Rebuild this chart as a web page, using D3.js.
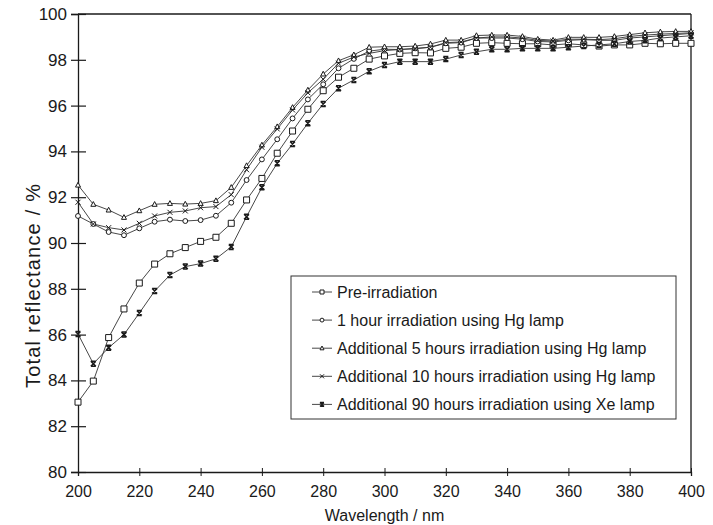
<!DOCTYPE html>
<html><head><meta charset="utf-8">
<script src="https://cdn.jsdelivr.net/npm/d3@7"></script>
<style>body{margin:0;background:#fff}svg{display:block}text{font-family:"Liberation Sans",Arial,sans-serif;fill:#1a1a1a}</style>
</head><body><svg id="c" width="713" height="525"></svg>
<script>
const wavelengths = d3.range(200, 401, 5);
const preIrradiation = [83.05,83.97,85.87,87.12,88.25,89.08,89.53,89.8,90.07,90.25,90.86,91.88,92.82,93.92,94.89,95.84,96.65,97.24,97.63,98.03,98.17,98.28,98.31,98.3,98.5,98.55,98.72,98.75,98.72,98.7,98.7,98.65,98.7,98.65,98.6,98.65,98.65,98.72,98.7,98.72,98.72];
const hg1h = [91.18,90.83,90.48,90.34,90.64,90.93,91.02,90.96,91.0,91.19,91.76,92.75,93.65,94.53,95.44,96.27,96.93,97.63,98.04,98.38,98.46,98.45,98.5,98.55,98.72,98.75,98.95,98.95,98.95,98.9,98.8,98.78,98.85,98.88,98.85,98.85,98.95,99.0,99.05,99.1,99.15];
const hg5h = [92.53,91.69,91.44,91.12,91.41,91.69,91.73,91.70,91.73,91.85,92.43,93.38,94.28,95.08,95.92,96.68,97.38,97.96,98.22,98.55,98.57,98.57,98.6,98.69,98.86,98.86,99.06,99.08,99.08,99.02,98.9,98.86,98.98,98.98,98.98,99.02,99.1,99.18,99.22,99.24,99.24];
const hg10h = [91.78,90.83,90.67,90.57,90.86,91.18,91.34,91.40,91.54,91.59,92.11,93.2,94.18,94.98,95.81,96.56,97.15,97.85,98.12,98.28,98.4,98.45,98.48,98.55,98.75,98.78,98.95,99.0,99.0,98.95,98.85,98.82,98.9,98.9,98.88,98.92,99.02,99.08,99.12,99.15,99.18];
const xe90h = [86.03,84.73,85.43,86.0,86.94,87.9,88.6,88.97,89.1,89.31,89.83,91.15,92.43,93.48,94.32,95.23,96.07,96.76,97.12,97.5,97.77,97.92,97.92,97.92,98.03,98.21,98.35,98.46,98.46,98.5,98.5,98.5,98.55,98.6,98.65,98.7,98.8,98.85,98.95,99.0,99.05];
const seriesNames = ["Pre-irradiation","1 hour irradiation using Hg lamp","Additional 5 hours irradiation using Hg lamp","Additional 10 hours irradiation using Hg lamp","Additional 90 hours irradiation using Xe lamp"];
const seriesMarkers = ["square","circle","triangle","cross","xbar"];
const xTicks = d3.range(200, 401, 20);
const yTicks = d3.range(80, 101, 2);

const series = [preIrradiation,hg1h,hg5h,hg10h,xe90h].map((v,i)=>({name:seriesNames[i],marker:seriesMarkers[i],values:v}));

const svg = d3.select("#c");
const L=78,R=691,T=14,B=472;
const x = d3.scaleLinear().domain([200,400]).range([L,R]);
const y = d3.scaleLinear().domain([80,100]).range([B,T]);
const ink="#1a1a1a";

svg.append("line").attr("x1",L).attr("x2",R).attr("y1",T).attr("y2",T).attr("stroke",ink).attr("stroke-width",1.3);
svg.append("line").attr("x1",R).attr("x2",R).attr("y1",T).attr("y2",B).attr("stroke",ink).attr("stroke-width",1.3);

const gy = svg.append("g").attr("transform",`translate(${L},0)`)
  .call(d3.axisLeft(y).tickValues(yTicks).tickSize(7).tickPadding(4).tickFormat(d3.format("d")));
gy.select(".domain").attr("stroke",ink).attr("stroke-width",1.3);
gy.selectAll(".tick line").attr("x1",-7).attr("x2",8).attr("stroke",ink).attr("stroke-width",1.2);
gy.selectAll(".tick text").attr("font-size",17).attr("x",-11).style("font-family",'"Liberation Sans",Arial,sans-serif').attr("fill",ink);

const gx = svg.append("g").attr("transform",`translate(0,${B})`)
  .call(d3.axisBottom(x).tickValues(xTicks).tickSize(4).tickPadding(10).tickFormat(d3.format("d")));
gx.select(".domain").attr("stroke",ink).attr("stroke-width",1.3);
gx.selectAll(".tick line").attr("y1",-4).attr("y2",4).attr("stroke",ink).attr("stroke-width",1);
gx.selectAll(".tick text").attr("font-size",16).style("font-family",'"Liberation Sans",Arial,sans-serif').attr("fill",ink);

svg.append("text").attr("x",(L+R)/2).attr("y",521).attr("text-anchor","middle").attr("font-size",16).text("Wavelength / nm");
svg.append("text").attr("transform","translate(40,286) rotate(-90)").attr("text-anchor","middle").attr("font-size",20)
  .attr("textLength",204).attr("lengthAdjust","spacing").text("Total reflectance / %");

function markerPath(type, s){
  const h=s/2;
  if(type==="square") return `M${-h},${-h}h${s}v${s}h${-s}Z`;
  if(type==="circle") return d3.symbol(d3.symbolCircle, s*s*0.75)();
  if(type==="triangle") return `M0,${-h*1.1}L${h},${h*0.8}L${-h},${h*0.8}Z`;
  if(type==="cross") return `M${-h},${-h}L${h},${h}M${h},${-h}L${-h},${h}`;
  if(type==="xbar") return `M${-h},${-h}L${h},${h}M${h},${-h}L${-h},${h}M${-h},${-h}H${h}M${-h},${h}H${h}`;
}

const line = d3.line().x((d,i)=>x(wavelengths[i])).y(d=>y(d));
const g = svg.append("g");
series.forEach(s=>{
  g.append("path").datum(s.values).attr("d",line).attr("fill","none").attr("stroke","#333").attr("stroke-width",0.9);
});
series.forEach(s=>{
  const size = s.marker==="square"?6:5;
  g.selectAll(null).data(s.values).join("path")
    .attr("transform",(d,i)=>`translate(${x(wavelengths[i])},${y(d)})`)
    .attr("d",markerPath(s.marker,size))
    .attr("fill",(s.marker==="cross"||s.marker==="xbar")?"none":"#fff")
    .attr("stroke",ink).attr("stroke-width",s.marker==="xbar"?1.5:1);
});

const lg = svg.append("g");
lg.append("rect").attr("x",291).attr("y",276).attr("width",385).attr("height",143).attr("fill","#fff").attr("stroke","#333").attr("stroke-width",1);
series.forEach((s,i)=>{
  const cy = 292 + i*28.1;
  lg.append("line").attr("x1",312).attr("x2",332).attr("y1",cy).attr("y2",cy).attr("stroke","#333").attr("stroke-width",0.9);
  lg.append("path").attr("transform",`translate(322,${cy})`).attr("d",markerPath(s.marker,4))
    .attr("fill",(s.marker==="cross"||s.marker==="xbar")?"none":"#fff").attr("stroke",ink).attr("stroke-width",s.marker==="xbar"?1.4:1);
  lg.append("text").attr("x",337).attr("y",cy).attr("dy","0.35em").attr("font-size",16).text(s.name);
});
</script></body></html>
